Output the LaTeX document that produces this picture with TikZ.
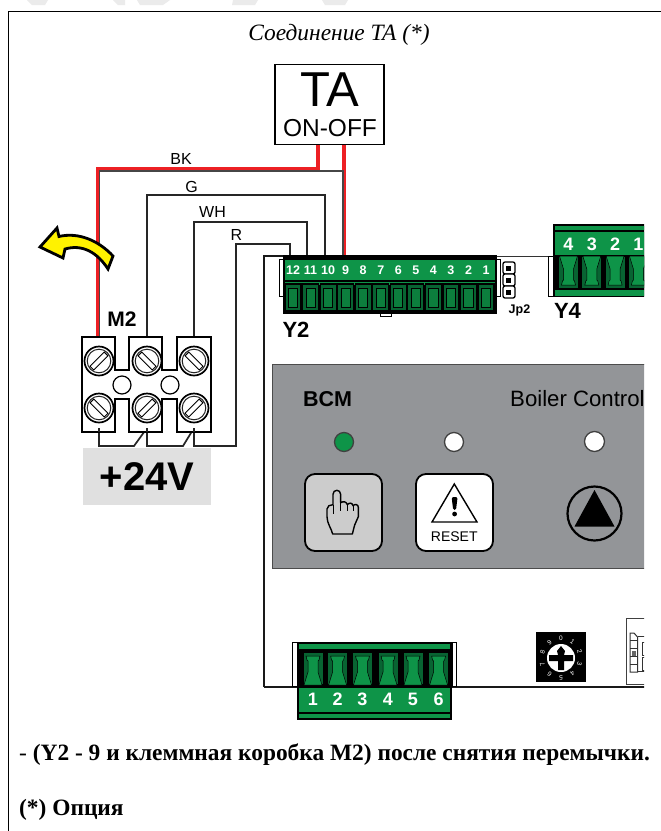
\documentclass[tikz,border=0pt]{standalone}
\usepackage{fontspec}
\setmainfont{Liberation Serif}
\setsansfont{Liberation Sans}
\usetikzlibrary{calc}
\definecolor{cgreen}{RGB}{14,148,72}
\definecolor{cdark}{RGB}{8,100,50}
\definecolor{cred}{RGB}{237,32,36}
\definecolor{cwire}{RGB}{70,70,70}
\definecolor{cpanel}{RGB}{147,149,152}
\newcommand\myfs[1]{\fontsize{#1}{#1}\selectfont}
\newcommand\screwhead[3]{%
  \fill[white,draw=black,line width=1.7pt] (#1,#2) circle (14.5);
  \draw[line width=1pt,black!85] (#1,#2) circle (11.8);
  \begin{scope}[shift={(#1,#2)},rotate=#3]
    \draw[line width=.9pt,fill=white] (-10,-2.6) rectangle (10,2.6);
  \end{scope}}
\newcommand\bigterm[3]{% centre x, origin y, flip
  \begin{scope}[shift={(#1,#2)},yscale=#3]
    \fill[black] (-11,0) rectangle (11,35);
    \fill[cdark] (-9.5,2) rectangle (9.5,33);
    \fill[cgreen,draw=black,line width=.5pt] (-7,5) -- (7,5) -- (6,9) -- (5,10) -- (5,21) -- (9,34) -- (-9,34) -- (-5,21) -- (-5,10) -- (-6,9) -- cycle;
  \end{scope}}
\tikzset{
  wire/.style={line width=1.7pt,black!85,line join=miter},
  redwire/.style={line width=4.6pt,cred,line join=miter},
  greywire/.style={line width=1.5pt,cwire,line join=miter},
  sanslabel/.style={font=\sffamily\myfs{16},inner sep=0pt},
  boldlabel/.style={font=\sffamily\bfseries,inner sep=0pt},
  greennum/.style={font=\sffamily\bfseries,text=white,inner sep=0pt},
  ear/.style={fill=white,draw=black,line width=1pt},
  pcb/.style={line width=1.8pt,black!90},
  btn/.style={draw=black,line width=1.8pt,rounded corners=10pt},
  led/.style={circle,draw=black!75,line width=1.3pt,minimum size=19pt,inner sep=0pt},
  para/.style={anchor=base west,inner sep=0pt,font=\bfseries\myfs{23.4}}
}
\begin{document}
\begin{tikzpicture}[x=1pt,y=-1pt]
\useasboundingbox[fill=white] (0,0) rectangle (661,831);
% watermark remnants
\fill[black!8] (27,0) -- (48,0) -- (45,5) -- (32,5) -- cycle
  (113,0) -- (125,0) -- (125,5) -- (118,5) -- cycle
  (137,0) -- (170,0) -- (163,5) -- (140,5) -- cycle
  (233,0) -- (258,0) -- (255,5) -- (232,5) -- cycle
  (322,0) -- (348,0) -- (345,5) -- (325,5) -- cycle;
% frame
\draw[line width=1.2pt] (661,11.5) -- (8.5,11.5) -- (8.5,831);
% title
\node[inner sep=0pt,anchor=base] (title) at (339,40) {\itshape\myfs{23.4}Соединение ТА (*)};
% TA box
\node[draw=black,line width=1.3pt,minimum width=109pt,minimum height=80pt,inner sep=0pt] (ta) at (329.5,104.5) {};
\node[inner sep=0pt,font=\sffamily\myfs{49}] (taText) at (329.5,90) {TA};
\node[inner sep=0pt,font=\sffamily\myfs{24.5}] (taSub) at (330,128) {ON-OFF};
% anchor points
\coordinate (taL) at (318,144.5);
\coordinate (taR) at (344,144.5);
\coordinate (bkC) at (318,169.5);
\coordinate (m2a) at (98,338);
\coordinate (m2b) at (147,338);
\coordinate (m2c) at (194,337);
\coordinate (p12) at (290,257);
\coordinate (p11) at (307,257);
\coordinate (p10) at (325,257);
\coordinate (p9) at (344,257);
% PCB outline
\draw[pcb] (264,687) -- (264,256) -- (285,256);
\draw[line width=1pt,black!80] (285,256) -- (550,256);
\begin{scope}
\clip (0,0) rectangle (644,831);
\draw[pcb] (264,687) -- (650,687);
\end{scope}
% wires
\draw[redwire] (taL) -- (bkC) -- (98,169.5) -- (m2a);
\draw[redwire] (taR) -- (p9);
\draw[greywire] (m2a) ++(1.5,0) -- (99.5,171) -- (343,171) -- (343,257);
\draw[wire,line width=1.5pt] (m2b) -- (147,195) -- (325,195) -- (p10);
\draw[wire,line width=2pt] (m2c) -- (194,222) -- (307,222) -- (p11);
\draw[wire] (p12) -- (290,244) -- (236,244) -- (236,446) -- (194,446) -- (194,428);
\draw[wire] (194,428) -- (183,446) -- (147,446) -- (147,428);
\draw[wire] (147,428) -- (134,446) -- (99,446) -- (99,428);
% wire labels
\node[sanslabel] (lbk) at (181,159) {BK};
\node[sanslabel] (lg) at (191.5,187) {G};
\node[sanslabel] (lwh) at (212.5,211.5) {WH};
\node[sanslabel] (lr) at (236.5,234.5) {R};
% yellow arrow
\draw[fill=yellow,line width=2.8pt,line join=miter] (40,247) -- (57,228) -- (59,236.5) .. controls (78,232) and (98,240) .. (113,256) -- (108,269) .. controls (97,252) and (82,244) .. (65,249) -- (63,258) -- cycle;
% terminal block M2
\draw[fill=white,line width=1.3pt] (82,337) -- (115,337) -- (115,370) -- (129,370) -- (129,337) -- (162,337) -- (162,370) -- (177,370) -- (177,337) -- (211,337) -- (211,432) -- (177,432) -- (177,399) -- (162,399) -- (162,432) -- (129,432) -- (129,399) -- (115,399) -- (115,432) -- (82,432) -- cycle;
\screwhead{99}{361}{45}
\screwhead{147}{361}{-45}
\screwhead{194}{361}{-45}
\screwhead{99}{408}{-45}
\screwhead{147}{408}{45}
\screwhead{194}{408}{45}
\draw[line width=1.2pt,fill=white] (122,385) circle (9);
\draw[line width=1.2pt,fill=white] (170,385) circle (9);
\draw[wire] (99,432) -- (99,428);
\draw[wire] (147,432) -- (147,428);
\draw[wire] (194,432) -- (194,428);
\node[boldlabel,font=\sffamily\bfseries\myfs{21}] (m2) at (122,319) {M2};
% +24V
\node[fill=black!12,minimum width=128pt,minimum height=57pt,inner sep=0pt,font=\sffamily\bfseries\myfs{40}] (v24) at (147,476.5) {+24V};
% Y2 connector
\draw[ear] (279,259) rectangle (284,296);
\draw[ear] (496,259) rectangle (500,296);
\draw[fill=white,line width=1pt] (380,312) rectangle (391,316.5);
\fill[black] (283,255) rectangle (497,314);
\fill[cgreen] (285,260) rectangle (495,279.5);
\fill[cgreen] (285,281.5) rectangle (495,285);
\foreach \lab [count=\i from 0] in {12,11,10,9,8,7,6,5,4,3,2,1} {
  \pgfmathsetmacro\cx{293+17.55*\i}
  \draw[fill=cdark,line width=1.2pt] (\cx-8,284) rectangle (\cx+8,310.5);
  \draw[fill=cgreen!85!black,line width=.9pt] (\cx-4.6,288) rectangle (\cx+4.6,307);
  \node[greennum,font=\sffamily\bfseries\myfs{12.5}] (ytwo\i) at (\cx,270) {\lab};
}
\node[boldlabel,font=\sffamily\bfseries\myfs{22}] (y2) at (296,330) {Y2};
% Jp2
\foreach \yy/\nm in {268/a,280/b,292/c} {
  \draw[fill=white,line width=1.3pt,rounded corners=2pt] (503,\yy-6) rectangle (515,\yy+6);
  \fill[black] (506,\yy-2.5) rectangle (511,\yy+2.5);
}
\node[boldlabel,font=\sffamily\bfseries\myfs{12.5}] (jp2) at (519.5,310) {Jp2};
\node[boldlabel,font=\sffamily\bfseries\myfs{22}] (y4) at (567.5,311) {Y4};
% Y4 connector and the rest that the sheet edge cuts
\begin{scope}
\clip (0,0) rectangle (644,831);
\draw[ear] (548,256) rectangle (553,296);
\fill[black] (553,224) rectangle (660,297);
\fill[cgreen] (555,226) rectangle (660,230);
\fill[cgreen] (555,232) rectangle (660,255);
\fill[cgreen] (555,290) rectangle (660,295.5);
\foreach \lab [count=\i from 0] in {4,3,2,1} {
  \pgfmathsetmacro\cx{568.5+23.3*\i}
  \bigterm{\cx}{290}{-1}
  \node[greennum,font=\sffamily\bfseries\myfs{18}] (yfour\i) at (\cx,244) {\lab};
}
% grey panel
\draw[fill=cpanel,draw=black!70,line width=1pt] (272,364) rectangle (660,568);
\node[boldlabel,font=\sffamily\bfseries\myfs{21.5},anchor=west] (bcm) at (303,399) {BCM};
\node[inner sep=0pt,font=\sffamily\myfs{22.2},anchor=west] (bctl) at (510,399) {Boiler Control};
\node[led,fill=cgreen] (l1) at (344,442) {};
\node[led,fill=white] (l2) at (454,442) {};
\node[led,fill=white,minimum size=20pt] (l3) at (594.5,441.5) {};
% small board at right
\draw[line width=.9pt,black!75] (650,618) -- (626.5,618) -- (626.5,684) -- (650,684);
\draw[line width=1pt,black!80] (630,633) -- (634,633) -- (637.5,637) -- (637.5,672) -- (630,672) -- cycle;
\draw[line width=.8pt,black!80] (630,640) -- (637.5,640) (630,648) -- (637.5,648) (630,656) -- (637.5,656) (630,664) -- (637.5,664) (637.5,636) -- (650,636) (637.5,671) -- (650,671);
\draw[line width=.8pt,black!80] (642,642) rectangle (650,655) (642,657) rectangle (650,670);
\fill[black!60] (632,651) rectangle (636,656);
\end{scope}
% buttons
\draw[btn,fill=black!20] (305,474) rectangle (382,551);
\draw[btn,fill=white] (416,474) rectangle (493,551);
\begin{scope}[shift={(260,360)},scale=.33333]
\draw[line width=1.4pt,line join=round] (218,522) .. controls (214,505) and (201,490) .. (201,470) -- (201,447) .. controls (201,438) and (210,434) .. (219,434) -- (219,403) .. controls (219,387) and (242,387) .. (242,403) -- (242,428) .. controls (250,423) and (260,425) .. (262,434) .. controls (268,427) and (277,428) .. (279,437) .. controls (285,431) and (295,433) .. (295,442) -- (295,470) -- (284,495) -- (277,522) -- cycle;
\draw[line width=1pt] (219,434) -- (219,462) (242,428) -- (242,452) (262,434) -- (262,452) (279,437) -- (279,454);
\end{scope}
\draw[line width=1.4pt,line join=miter] (454.3,484) -- (477,522) -- (432,522) -- cycle;
\fill[black,rounded corners=1.5pt] (451.6,497) -- (457.6,497) -- (456,510) -- (453.2,510) -- cycle;
\fill[black] (454.6,514) circle (2.4);
\node[inner sep=0pt,font=\sffamily\myfs{14}] (reset) at (454.3,536.5) {RESET};
\draw[line width=2.2pt] (594.5,513.5) circle (27);
\fill[black] (594.5,490) -- (614.5,526.5) -- (574.5,526.5) -- cycle;
% lower connector
\draw[ear] (292,642) rectangle (297,686);
\draw[ear] (452,642) rectangle (456,686);
\fill[black] (297,642) rectangle (452,720);
\fill[cgreen] (299,644) rectangle (450,648.5);
\fill[cgreen] (299,688) rectangle (450,711.5);
\fill[cgreen] (299,714) rectangle (450,718);
\foreach \lab/\cx in {1/313,2/337.6,3/362.5,4/388,5/413,6/438.6} {
  \bigterm{\cx}{651}{1}
  \node[greennum,font=\sffamily\bfseries\myfs{18}] (low\lab) at (\cx,699.5) {\lab};
}
% rotary switch
\fill[black] (536,632) rectangle (586,682);
\fill[white] (561,658) circle (14);
\foreach \d in {0,...,9} {
  \pgfmathsetmacro\aa{36*\d}
  \pgfmathsetmacro\px{561+19.5*sin(\aa)}
  \pgfmathsetmacro\py{658-19.5*cos(\aa)}
  \node[inner sep=0pt,text=white,font=\sffamily\myfs{6.5},rotate=-\aa] (rot\d) at (\px,\py) {\d};
}
\fill[black] (561,646) -- (565,651) -- (564,655) -- (573,655) -- (573,661) -- (564,661) -- (564,670) -- (558,670) -- (558,661) -- (549,661) -- (549,655) -- (558,655) -- (557,651) -- cycle;
% bottom text
\node[para] (note1) at (19,760) {\mdseries -\ \bfseries (Y2 - 9 и клеммная коробка М2) после снятия перемычки.};
\node[para] (note2) at (19,815) {(*) Опция};
\end{tikzpicture}
\end{document}
